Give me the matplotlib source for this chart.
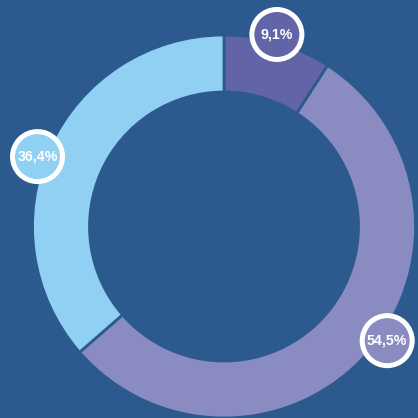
import matplotlib.pyplot as plt
import numpy as np

labels = ['9,1%', '54,5%', '36,4%']
values = [9.1, 54.5, 36.4]
colors = ['#6165a7', '#8a8cc1', '#90d1f3']
bg = '#2c5a8f'

fig = plt.figure(figsize=(4.18, 4.18), dpi=100)
fig.patch.set_facecolor(bg)
ax = fig.add_axes([0, 0, 1, 1])
ax.set_facecolor(bg)

# pixel-like coordinates, y going down
cx, cy = 224, -226.5
R = 191.5
W = 57

wedges, _ = ax.pie(values, colors=colors, radius=R, center=(cx, cy),
                   startangle=90, counterclock=False,
                   wedgeprops=dict(width=W, edgecolor=bg, linewidth=2))

total = sum(values)
start = 0.0
for lab, v, col in zip(labels, values, colors):
    # label sits a bit before the middle of its slice, just outside the ring
    frac = (start + 0.47 * v) / total
    ang = np.deg2rad(90 - frac * 360)
    lx = cx + 1.04 * R * np.cos(ang)
    ly = cy + 1.04 * R * np.sin(ang)
    ax.add_patch(plt.Circle((lx, ly), 25, facecolor=col, edgecolor='white',
                            linewidth=3.6, zorder=5))
    ax.text(lx, ly, lab, ha='center', va='center', color='white',
            fontsize=10.2, fontweight='bold', family='Liberation Sans', zorder=6)
    start += v

ax.set_xlim(0, 418)
ax.set_ylim(-418, 0)
ax.set_aspect('equal')
ax.axis('off')

fig.savefig('out.png', dpi=100, facecolor=bg)
